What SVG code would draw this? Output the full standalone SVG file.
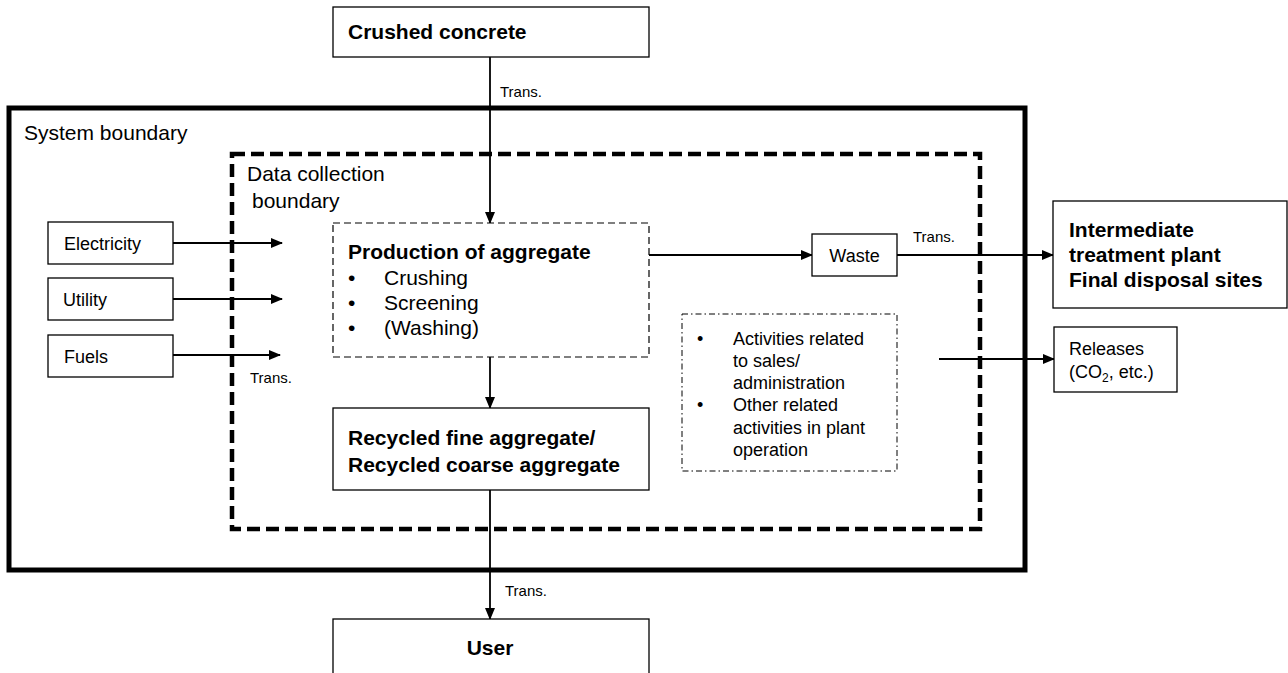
<svg xmlns="http://www.w3.org/2000/svg" width="1288" height="673" viewBox="0 0 1288 673">
<style>
  text { font-family: "Liberation Sans", Arial, sans-serif; fill: #000; }
  .big { font-size: 21px; }
  .bold { font-size: 21px; font-weight: bold; }
  .mid { font-size: 18px; }
  .sm { font-size: 15px; }
  .box { fill: #fff; stroke: #000; stroke-width: 1.3; }
  .line { stroke: #000; stroke-width: 1.8; fill: none; }
</style>
<defs>
  <marker id="arr" markerWidth="12" markerHeight="10" refX="11" refY="5" orient="auto" markerUnits="userSpaceOnUse">
    <path d="M0,0 L12,5 L0,10 Z" fill="#000"/>
  </marker>
</defs>
<rect width="1288" height="673" fill="#fff"/>

<g id="system-boundary">
  <rect x="9" y="108" width="1016" height="462" fill="none" stroke="#000" stroke-width="5"/>
  <text class="big" x="24" y="140">System boundary</text>
</g>
<g id="data-collection-boundary">
  <rect x="232" y="154" width="748" height="375" fill="none" stroke="#000" stroke-width="4.5" stroke-dasharray="13,6"/>
  <text class="big" x="247" y="181">Data collection</text>
  <text class="big" x="252" y="208">boundary</text>
</g>

<g id="connectors">
  <line class="line" x1="490" y1="57" x2="490" y2="223" marker-end="url(#arr)"/>
  <line class="line" x1="173" y1="243" x2="282" y2="243" marker-end="url(#arr)"/>
  <line class="line" x1="173" y1="299" x2="282" y2="299" marker-end="url(#arr)"/>
  <line class="line" x1="173" y1="355" x2="280" y2="355" marker-end="url(#arr)"/>
  <line class="line" x1="490" y1="357" x2="490" y2="408" marker-end="url(#arr)"/>
  <line class="line" x1="490" y1="490" x2="490" y2="619" marker-end="url(#arr)"/>
  <line class="line" x1="649" y1="255" x2="812" y2="255" marker-end="url(#arr)"/>
  <line class="line" x1="897" y1="255" x2="1053" y2="255" marker-end="url(#arr)"/>
  <line class="line" x1="939" y1="359" x2="1054" y2="359" marker-end="url(#arr)"/>
  <text class="sm" x="500" y="97">Trans.</text>
  <text class="sm" x="250" y="383">Trans.</text>
  <text class="sm" x="913" y="242">Trans.</text>
  <text class="sm" x="505" y="596">Trans.</text>
</g>

<g id="crushed-concrete">
  <rect class="box" x="333" y="7" width="316" height="50"/>
  <text class="bold" x="348" y="39">Crushed concrete</text>
</g>

<g id="electricity">
  <rect class="box" x="48" y="222" width="125" height="42"/>
  <text class="mid" x="64" y="250">Electricity</text>
</g>
<g id="utility">
  <rect class="box" x="48" y="278" width="125" height="42"/>
  <text class="mid" x="63" y="306">Utility</text>
</g>
<g id="fuels">
  <rect class="box" x="48" y="335" width="125" height="42"/>
  <text class="mid" x="64" y="363">Fuels</text>
</g>

<g id="production">
  <rect x="333" y="223" width="316" height="134" fill="#fff" stroke="#000" stroke-width="1.2" stroke-dasharray="7,4"/>
  <text class="bold" x="348" y="259">Production of aggregate</text>
  <text class="big" x="348" y="285">•</text>
  <text class="big" x="384" y="285">Crushing</text>
  <text class="big" x="348" y="310">•</text>
  <text class="big" x="384" y="310">Screening</text>
  <text class="big" x="348" y="335">•</text>
  <text class="big" x="384" y="335">(Washing)</text>
</g>

<g id="recycled">
  <rect class="box" x="333" y="408" width="316" height="82"/>
  <text class="bold" x="348" y="445">Recycled fine aggregate/</text>
  <text class="bold" x="348" y="472">Recycled coarse aggregate</text>
</g>

<g id="user">
  <rect class="box" x="333" y="619" width="316" height="70"/>
  <text class="bold" x="490" y="655" text-anchor="middle">User</text>
</g>

<g id="waste">
  <rect class="box" x="812" y="234" width="85" height="42"/>
  <text class="mid" x="854.5" y="262" text-anchor="middle">Waste</text>
</g>

<g id="activities">
  <rect x="682" y="314" width="215" height="157" fill="#fff" stroke="#000" stroke-width="1" stroke-dasharray="6,3,1.5,3"/>
  <text class="mid" x="697" y="345">•</text>
  <text class="mid" x="733" y="345">Activities related</text>
  <text class="mid" x="733" y="367">to sales/</text>
  <text class="mid" x="733" y="389">administration</text>
  <text class="mid" x="697" y="411">•</text>
  <text class="mid" x="733" y="411">Other related</text>
  <text class="mid" x="733" y="434">activities in plant</text>
  <text class="mid" x="733" y="456">operation</text>
</g>

<g id="intermediate">
  <rect class="box" x="1053" y="201" width="234" height="107"/>
  <text class="bold" x="1069" y="237">Intermediate</text>
  <text class="bold" x="1069" y="262">treatment plant</text>
  <text class="bold" x="1069" y="287">Final disposal sites</text>
</g>

<g id="releases">
  <rect class="box" x="1054" y="327" width="123" height="65"/>
  <text class="mid" x="1069" y="355">Releases</text>
  <text class="mid" x="1069" y="378">(CO<tspan font-size="12" dy="4">2</tspan><tspan dy="-4">, etc.)</tspan></text>
</g>
</svg>
